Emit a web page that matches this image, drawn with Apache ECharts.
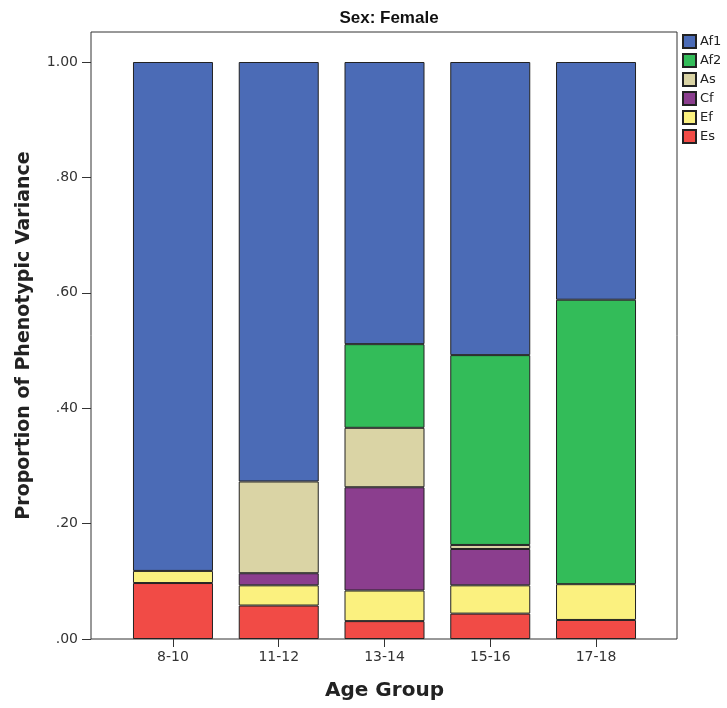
<!DOCTYPE html>
<html>
<head>
<meta charset="utf-8">
<script src="https://cdn.jsdelivr.net/npm/echarts@6/dist/echarts.min.js"></script>
<style>html,body{margin:0;padding:0;background:#fff}#c{width:727px;height:708px}</style>
</head>
<body>
<div id="c"></div>
<script>
var categories = ['8-10', '11-12', '13-14', '15-16', '17-18'];
var Es  = [0.097, 0.058, 0.031, 0.044, 0.033];
var Ef  = [0.021, 0.035, 0.053, 0.049, 0.062];
var Cf  = [null, 0.021, 0.179, 0.063, null];
var As  = [null, 0.159, 0.103, 0.007, null];
var Af2 = [null, null, 0.145, 0.329, 0.493];
var Af1 = [0.882, 0.727, 0.489, 0.508, 0.412];
var yTicks = [0, 0.2, 0.4, 0.6, 0.8, 1.0];
var legendOrder = ['Af1', 'Af2', 'As', 'Cf', 'Ef', 'Es'];

var colors = {Af1:'#4b6bb6', Af2:'#33bc59', As:'#dad4a5', Cf:'#8b3e8e', Ef:'#fbf17f', Es:'#f14b46'};
var seriesDefs = [['Es',Es],['Ef',Ef],['Cf',Cf],['As',As],['Af2',Af2],['Af1',Af1]];
var font = 'DejaVu Sans, Verdana, sans-serif';

var chart = echarts.init(document.getElementById('c'), null, {renderer:'canvas'});
chart.setOption({
  animation: false,
  backgroundColor: '#fff',
  title: {
    text: 'Sex: Female', left: 384, top: 5, textAlign: 'center',
    textStyle: {fontFamily: '"Liberation Sans Narrow", "Liberation Sans", Arial, sans-serif', fontWeight: 'bold', fontSize: 17, color: '#111'}
  },
  legend: {
    data: legendOrder, orient: 'vertical', left: 682, top: 34, padding: 0,
    itemWidth: 13, itemHeight: 13, itemGap: 4,
    textStyle: {fontFamily: font, fontSize: 13, color: '#222', lineHeight: 15, padding: [0,0,0,-1]},
    icon: 'rect'
  },
  grid: [
    {left: 120.1, right: 78.1, top: 32, bottom: 69, show: false},
    {left: 91, right: 50, top: 32, bottom: 69, show: true, borderColor: '#333', borderWidth: 1, backgroundColor: 'transparent'}
  ],
  xAxis: [
    {type: 'category', data: categories, gridIndex: 0,
     axisLine: {show: false},
     axisTick: {show: true, alignWithLabel: true, length: 8, lineStyle: {color: '#333'}},
     axisLabel: {fontFamily: font, fontSize: 14, color: '#333', margin: 11},
     name: 'Age Group', nameLocation: 'middle', nameGap: 42,
     nameTextStyle: {fontFamily: font, fontWeight: 'bold', fontSize: 20, color: '#222'}},
    {type: 'value', gridIndex: 1, show: false}
  ],
  yAxis: [
    {type: 'value', gridIndex: 0, min: 0, max: 1.052, interval: 0.2, offset: 29.1,
     axisLine: {show: false},
     axisTick: {show: true, length: 9, lineStyle: {color: '#333'}, customValues: yTicks},
     axisLabel: {fontFamily: font, fontSize: 14, color: '#333', margin: 13, customValues: yTicks,
       formatter: function(v){ var s = v.toFixed(2); return v < 1 ? s.replace(/^0/, '') : s; }},
     splitLine: {show: false},
     name: 'Proportion of Phenotypic Variance', nameLocation: 'middle', nameGap: 57,
     nameTextStyle: {fontFamily: font, fontWeight: 'bold', fontSize: 19, color: '#222'}},
    {type: 'value', gridIndex: 1, show: false}
  ],
  series: seriesDefs.map(function(d){
    return {
      name: d[0], type: 'bar', stack: 'total', data: d[1], barWidth: 80,
      xAxisIndex: 0, yAxisIndex: 0,
      itemStyle: {color: colors[d[0]], borderColor: '#222', borderWidth: 1}
    };
  })
});
</script>
</body>
</html>
